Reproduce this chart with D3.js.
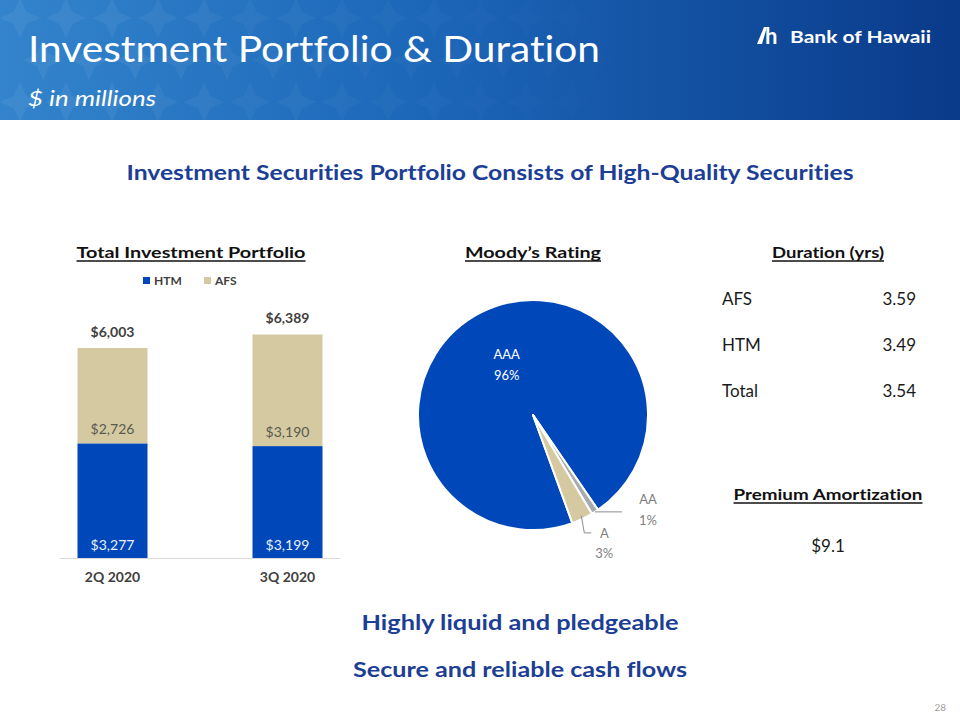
<!DOCTYPE html>
<html><head><meta charset="utf-8">
<script src="https://cdn.jsdelivr.net/npm/d3@7/dist/d3.min.js"></script>
<style>body{margin:0;background:#fff}svg{display:block}text{font-variant-ligatures:none;font-feature-settings:"liga" 0,"clig" 0}</style>
</head><body>
<div id="chart"></div>
<script>
// ---- data ----
const categories = ["2Q 2020", "3Q 2020"];
const seriesNames = ["HTM", "AFS"];
const htmValues = [3277, 3199];
const afsValues = [2726, 3190];
const ratingLabels = ["AAA", "AA", "A"];
const ratingPct = [96, 1, 3];
const durationLabels = ["AFS", "HTM", "Total"];
const durationValues = ["3.59", "3.49", "3.54"];
const premiumAmortization = "$9.1";

const W = 960, H = 720;
const FONT = "Lato, 'Open Sans', sans-serif";
const BLUE = "#0047BA", TAN = "#D4C9A0", GRAY = "#A7ABAE", NAVY = "#1C3E95", DARK = "#404040";

const svg = d3.select("#chart").append("svg").attr("width", W).attr("height", H)
  .style("font-family", FONT);

// ---- header band ----
const defs = svg.append("defs");
const g1 = defs.append("linearGradient").attr("id", "hdr").attr("x1", "0").attr("x2", "1").attr("y1", "0").attr("y2", "0");
g1.append("stop").attr("offset", "0").attr("stop-color", "#3384cc");
g1.append("stop").attr("offset", "0.45").attr("stop-color", "#1c66b8");
g1.append("stop").attr("offset", "1").attr("stop-color", "#0a3a8a");
svg.append("rect").attr("x", 0).attr("y", 0).attr("width", W).attr("height", 120).attr("fill", "url(#hdr)");
// subtle pattern on left portion
const pat = svg.append("g").attr("opacity", 0.06);
for (let i = 0; i < 13; i++) for (let j = 0; j < 3; j++) {
  const cx = 20 + i * 46 + (j % 2) * 23, cy = 18 + j * 42;
  pat.append("path").attr("d", `M${cx},${cy-20}L${cx+9},${cy}L${cx},${cy+20}L${cx-9},${cy}Z M${cx-20},${cy}L${cx},${cy-9}L${cx+20},${cy}L${cx},${cy+9}Z`)
    .attr("fill", "#ffffff").attr("opacity", 1 - i / 14);
}
svg.append("text").attr("x", 28).attr("y", 62).attr("fill", "#fff")
  .attr("font-size", 37).attr("textLength", 572).attr("lengthAdjust", "spacingAndGlyphs")
  .text("Investment Portfolio & Duration");
svg.append("text").attr("x", 28).attr("y", 106).attr("fill", "#fff")
  .attr("font-size", 22).attr("font-style", "italic").attr("textLength", 128).attr("lengthAdjust", "spacingAndGlyphs")
  .text("$ in millions");
// logo
const logo = svg.append("g").attr("fill", "#fff");
logo.append("path").attr("d", "M757,44 L764,27 L767,27 L762,44 Z");
logo.append("text").attr("x", 765).attr("y", 44).attr("font-size", 22).attr("font-weight", 700).text("h");
logo.append("text").attr("x", 790).attr("y", 43).attr("font-size", 17).attr("font-weight", 700)
  .attr("textLength", 141).attr("lengthAdjust", "spacingAndGlyphs").text("Bank of Hawaii");

// ---- subtitle ----
svg.append("text").attr("x", 490).attr("y", 180).attr("text-anchor", "middle").attr("fill", NAVY)
  .attr("font-size", 21).attr("font-weight", 700).attr("textLength", 727).attr("lengthAdjust", "spacingAndGlyphs")
  .text("Investment Securities Portfolio Consists of High-Quality Securities");

function ulTitle(x, y, txt, len) {
  svg.append("text").attr("x", x).attr("y", y).attr("text-anchor", "middle").attr("fill", "#111")
    .attr("font-size", 16).attr("font-weight", 700).attr("textLength", len).attr("lengthAdjust", "spacingAndGlyphs").text(txt);
  svg.append("line").attr("x1", x - len / 2).attr("x2", x + len / 2).attr("y1", y + 3).attr("y2", y + 3)
    .attr("stroke", "#111").attr("stroke-width", 1.3);
}
ulTitle(191, 258, "Total Investment Portfolio", 229);
ulTitle(533, 258, "Moody\u2019s Rating", 136);
ulTitle(828, 258, "Duration (yrs)", 112);
ulTitle(828, 500, "Premium Amortization", 189);

// ---- stacked bar chart ----
const data = categories.map((c, i) => ({ cat: c, HTM: htmValues[i], AFS: afsValues[i] }));
const x = d3.scaleBand().domain(categories).range([60, 340]).paddingInner(0.6).paddingOuter(0.1);
const y = d3.scaleLinear().domain([0, 6003]).range([558, 348]);
const stack = d3.stack().keys(seriesNames)(data);
const colors = { HTM: BLUE, AFS: TAN };
svg.append("g").selectAll("g").data(stack).join("g").attr("fill", d => colors[d.key])
  .selectAll("rect").data(d => d).join("rect")
  .attr("x", d => x(d.data.cat)).attr("width", x.bandwidth())
  .attr("y", d => y(d[1])).attr("height", d => y(d[0]) - y(d[1]));
// axis
const xAxis = svg.append("g").attr("transform", "translate(0,558)").call(d3.axisBottom(x).tickSize(0).tickPadding(14));
xAxis.select(".domain").attr("stroke", "#d9d9d9").attr("d", "M60,0.5H340");
xAxis.selectAll("text").attr("font-family", FONT).attr("font-size", 14).attr("font-weight", 700).attr("fill", DARK);
// labels
const fmt = d3.format("$,");
svg.append("g").selectAll("text").data(data).join("text")
  .attr("x", d => x(d.cat) + x.bandwidth() / 2).attr("y", d => y(d.HTM + d.AFS) - 11)
  .attr("text-anchor", "middle").attr("font-size", 14).attr("font-weight", 700).attr("fill", DARK)
  .text(d => fmt(d.HTM + d.AFS));
svg.append("g").selectAll("text").data(data).join("text")
  .attr("x", d => x(d.cat) + x.bandwidth() / 2).attr("y", d => y(d.HTM) - 9)
  .attr("text-anchor", "middle").attr("font-size", 14).attr("fill", "#5a5a50")
  .text(d => fmt(d.AFS));
svg.append("g").selectAll("text").data(data).join("text")
  .attr("x", d => x(d.cat) + x.bandwidth() / 2).attr("y", 550)
  .attr("text-anchor", "middle").attr("font-size", 14).attr("fill", "#e8f0ff")
  .text(d => fmt(d.HTM));
// legend
const leg = svg.append("g").selectAll("g").data(seriesNames).join("g")
  .attr("transform", (d, i) => `translate(${143 + i * 61},277)`);
leg.append("rect").attr("width", 7).attr("height", 7).attr("fill", d => colors[d]);
leg.append("text").attr("x", 11).attr("y", 8).attr("font-size", 12).attr("font-weight", 700).attr("fill", DARK).text(d => d);

// ---- pie ----
const cx = 533, cy = 415, R = 115;
const pie = d3.pie().sort(null).startAngle(160 * Math.PI / 180).endAngle(520 * Math.PI / 180);
const arcs = pie(ratingPct);
const arc = d3.arc().innerRadius(0).outerRadius(R);
const pieColors = [BLUE, GRAY, TAN];
const pg = svg.append("g").attr("transform", `translate(${cx},${cy})`);
pg.selectAll("path").data(arcs).join("path").attr("d", arc)
  .attr("fill", (d, i) => pieColors[i]).attr("stroke", "#fff").attr("stroke-width", 2).attr("stroke-linejoin", "round");
// AAA label inside
const inArc = d3.arc().innerRadius(R * 0.5).outerRadius(R * 0.5);
const c0 = inArc.centroid(arcs[0]);
const t0 = pg.append("text").attr("text-anchor", "middle").attr("fill", "#fff").attr("font-size", 13);
t0.append("tspan").attr("x", c0[0]).attr("y", c0[1] - 5).text(ratingLabels[0]);
t0.append("tspan").attr("x", c0[0]).attr("y", c0[1] + 16).text(ratingPct[0] + "%");
// AA label
const outArc = d3.arc().innerRadius(R).outerRadius(R);
const pAA = outArc.centroid(arcs[1]);
pg.append("polyline").attr("points", [[pAA[0], pAA[1]], [pAA[0] + 27, pAA[1]]].map(p => p.join(",")).join(" "))
  .attr("fill", "none").attr("stroke", "#8c8c8c").attr("stroke-width", 1);
const tAA = pg.append("text").attr("text-anchor", "middle").attr("fill", "#7f7f7f").attr("font-size", 13);
tAA.append("tspan").attr("x", pAA[0] + 53).attr("y", pAA[1] - 8).text(ratingLabels[1]);
tAA.append("tspan").attr("x", pAA[0] + 53).attr("y", pAA[1] + 13).text(ratingPct[1] + "%");
// A label
const pA = outArc.centroid(arcs[2]);
pg.append("polyline").attr("points", [[pA[0] - 1, pA[1] - 3], [pA[0] + 2, pA[1] + 14], [pA[0] + 9, pA[1] + 14]].map(p => p.join(",")).join(" "))
  .attr("fill", "none").attr("stroke", "#8c8c8c").attr("stroke-width", 1);
const tA = pg.append("text").attr("text-anchor", "middle").attr("fill", "#7f7f7f").attr("font-size", 13);
tA.append("tspan").attr("x", pA[0] + 22).attr("y", pA[1] + 19).text(ratingLabels[2]);
tA.append("tspan").attr("x", pA[0] + 22).attr("y", pA[1] + 39).text(ratingPct[2] + "%");

// ---- duration table ----
const dy = d3.scalePoint().domain(durationLabels).range([305, 397]);
const dt = svg.append("g").selectAll("g").data(durationLabels).join("g");
dt.append("text").attr("x", 722).attr("y", d => dy(d)).attr("font-size", 17).attr("fill", "#1a1a1a").text(d => d);
dt.append("text").attr("x", 916).attr("y", d => dy(d)).attr("text-anchor", "end").attr("font-size", 17).attr("fill", "#1a1a1a")
  .text((d, i) => durationValues[i]);
svg.append("text").attr("x", 828).attr("y", 552).attr("text-anchor", "middle").attr("font-size", 17).attr("fill", "#1a1a1a")
  .text(premiumAmortization);

// ---- bottom texts ----
svg.append("text").attr("x", 520).attr("y", 630).attr("text-anchor", "middle").attr("fill", NAVY)
  .attr("font-size", 21).attr("font-weight", 700).attr("textLength", 317).attr("lengthAdjust", "spacingAndGlyphs")
  .text("Highly liquid and pledgeable");
svg.append("text").attr("x", 520).attr("y", 677).attr("text-anchor", "middle").attr("fill", NAVY)
  .attr("font-size", 21).attr("font-weight", 700).attr("textLength", 334).attr("lengthAdjust", "spacingAndGlyphs")
  .text("Secure and reliable cash flows");
svg.append("text").attr("x", 946).attr("y", 711).attr("text-anchor", "end").attr("fill", "#a0a0a0").attr("font-size", 10).text("28");
</script>
</body></html>
